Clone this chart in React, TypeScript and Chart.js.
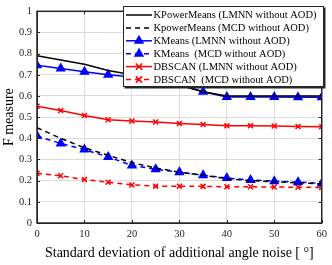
import React, { useEffect, useRef } from 'react';
import { Chart, registerables } from 'chart.js';
Chart.register(...registerables);

const noiseLevels = [0, 5, 10, 15, 20, 25, 30, 35, 40, 45, 50, 55, 60];
const kPowerMeansLmnn = [0.79, 0.77, 0.75, 0.72, 0.70, 0.68, 0.65, 0.62, 0.60, 0.60, 0.60, 0.60, 0.60];
const kPowerMeansMcd = [0.45, 0.40, 0.355, 0.32, 0.285, 0.26, 0.24, 0.225, 0.21, 0.20, 0.195, 0.19, 0.185];
const kMeansLmnn = [0.745, 0.73, 0.715, 0.70, 0.69, 0.675, 0.655, 0.62, 0.595, 0.595, 0.595, 0.594, 0.594];
const kMeansMcd = [0.411, 0.376, 0.347, 0.312, 0.272, 0.254, 0.24, 0.226, 0.212, 0.203, 0.197, 0.193, 0.187];
const dbscanLmnn = [0.552, 0.531, 0.508, 0.488, 0.482, 0.477, 0.47, 0.465, 0.459, 0.459, 0.458, 0.456, 0.455];
const dbscanMcd = [0.235, 0.223, 0.205, 0.193, 0.18, 0.174, 0.174, 0.173, 0.171, 0.171, 0.17, 0.169, 0.168];

const seriesLabels = [
  'KPowerMeans (LMNN without AOD)',
  'KpowerMeans (MCD without AOD)',
  'KMeans (LMNN without AOD)',
  'KMeans  (MCD without AOD)',
  'DBSCAN (LMNN without AOD)',
  'DBSCAN  (MCD without AOD)',
];
const yTicksMax = 1;
const xTicksMax = 60;

const FONT = '"Liberation Serif", "Times New Roman", serif';

type Style = { color: string; dash: number[]; marker: string | false; radius: number };
const styles: Style[] = [
  { color: '#000000', dash: [], marker: false, radius: 0 },
  { color: '#000000', dash: [5, 4], marker: false, radius: 0 },
  { color: '#0000ff', dash: [], marker: 'triangle', radius: 4.5 },
  { color: '#0000ff', dash: [5, 4], marker: 'triangle', radius: 4.5 },
  { color: '#ff0000', dash: [], marker: 'crossRot', radius: 3.5 },
  { color: '#ff0000', dash: [5, 4], marker: 'crossRot', radius: 3.5 },
];
const seriesValues = [kPowerMeansLmnn, kPowerMeansMcd, kMeansLmnn, kMeansMcd, dbscanLmnn, dbscanMcd];

function drawMarker(ctx: CanvasRenderingContext2D, kind: string, x: number, y: number, r: number, color: string) {
  ctx.save();
  ctx.setLineDash([]);
  ctx.strokeStyle = color;
  ctx.fillStyle = color;
  ctx.lineWidth = 1.5;
  ctx.beginPath();
  if (kind === 'triangle') {
    for (let i = 0; i < 3; i++) {
      const a = (i * 2 * Math.PI) / 3;
      const px = x + Math.sin(a) * r;
      const py = y - Math.cos(a) * r;
      if (i === 0) ctx.moveTo(px, py);
      else ctx.lineTo(px, py);
    }
    ctx.closePath();
    ctx.fill();
    ctx.stroke();
  } else {
    const d = r * 0.9;
    ctx.moveTo(x - d, y - d);
    ctx.lineTo(x + d, y + d);
    ctx.moveTo(x + d, y - d);
    ctx.lineTo(x - d, y + d);
    ctx.stroke();
  }
  ctx.restore();
}

const framePlugin = {
  id: 'frameAndLegend',
  afterDraw(chart: any) {
    const { ctx, chartArea, scales } = chart;
    const { left, right, top, bottom } = chartArea;
    ctx.save();
    // inward ticks
    ctx.strokeStyle = '#262626';
    ctx.lineWidth = 1;
    ctx.setLineDash([]);
    ctx.beginPath();
    scales.x.ticks.forEach((t: any) => {
      const px = Math.round(scales.x.getPixelForValue(t.value)) + 0.5;
      ctx.moveTo(px, bottom);
      ctx.lineTo(px, bottom - 3);
      ctx.moveTo(px, top);
      ctx.lineTo(px, top + 3);
    });
    scales.y.ticks.forEach((t: any) => {
      const py = Math.round(scales.y.getPixelForValue(t.value)) + 0.5;
      ctx.moveTo(left, py);
      ctx.lineTo(left + 3, py);
      ctx.moveTo(right, py);
      ctx.lineTo(right - 3, py);
    });
    ctx.stroke();
    // frame
    ctx.strokeStyle = '#262626';
    ctx.lineWidth = 1.5;
    ctx.strokeRect(left, top, right - left, bottom - top);

    // legend
    const lx = 123.5;
    const ly = 6.5;
    const lw = 200;
    const lh = 80;
    ctx.fillStyle = '#ffffff';
    ctx.fillRect(lx, ly, lw, lh);
    ctx.strokeStyle = '#262626';
    ctx.lineWidth = 1;
    ctx.strokeRect(lx, ly, lw, lh);
    ctx.lineWidth = 2;
    ctx.beginPath();
    ctx.moveTo(lx + 1, ly + lh + 1);
    ctx.lineTo(lx + lw + 1, ly + lh + 1);
    ctx.lineTo(lx + lw + 1, ly + 1);
    ctx.stroke();

    ctx.font = `10.5px ${FONT}`;
    ctx.textBaseline = 'middle';
    ctx.textAlign = 'left';
    seriesLabels.forEach((label, i) => {
      const s = styles[i];
      const cy = 15 + i * 12.9;
      ctx.strokeStyle = s.color;
      ctx.lineWidth = 1.5;
      ctx.setLineDash(s.dash);
      ctx.beginPath();
      ctx.moveTo(126, cy);
      ctx.lineTo(152, cy);
      ctx.stroke();
      ctx.setLineDash([]);
      if (s.marker) drawMarker(ctx, s.marker, 139, cy, s.radius, s.color);
      ctx.fillStyle = '#000000';
      ctx.fillText(label, 153.5, cy + 0.5);
    });
    ctx.restore();
  },
};

export default function App() {
  const ref = useRef<HTMLCanvasElement | null>(null);
  useEffect(() => {
    document.body.style.margin = '0';
    const canvas = ref.current;
    if (!canvas) return;
    const datasets = seriesValues.map((vals, i) => {
      const s = styles[i];
      return {
        label: seriesLabels[i],
        data: vals.map((v, j) => ({ x: noiseLevels[j], y: v })),
        borderColor: s.color,
        backgroundColor: s.color,
        borderWidth: 1.5,
        borderDash: s.dash,
        pointStyle: s.marker || 'circle',
        pointRadius: s.radius,
        pointBorderWidth: 1.5,
        pointBackgroundColor: s.color,
        pointBorderColor: s.color,
        tension: 0,
        fill: false,
      };
    });
    const chart = new Chart(canvas, {
      type: 'line',
      data: { datasets },
      options: {
        animation: false,
        responsive: false,
        maintainAspectRatio: false,
        layout: { padding: { left: 0, top: 5, right: 9, bottom: 0 } },
        plugins: { legend: { display: false }, tooltip: { enabled: false } },
        scales: {
          x: {
            type: 'linear',
            min: 0,
            max: xTicksMax,
            ticks: { stepSize: 10, padding: 5, color: '#262626', font: { family: FONT, size: 10.5 }, maxRotation: 0 },
            grid: { color: '#dcdcdc', drawTicks: false, tickLength: 0 },
            border: { display: true, color: '#262626' },
            title: {
              display: true,
              text: 'Standard deviation of additional angle noise [ °]',
              color: '#000000',
              font: { family: FONT, size: 14, lineHeight: 1.2 },
              padding: { top: 0, bottom: 3.6 },
            },
            afterFit: (scale: any) => { scale.height = 42; },
          },
          y: {
            type: 'linear',
            min: 0,
            max: yTicksMax,
            ticks: {
              stepSize: 0.1,
              padding: 5,
              color: '#262626',
              font: { family: FONT, size: 10.5 },
              callback: (v: any) => String(Number(Number(v).toFixed(1))),
            },
            grid: { color: '#dcdcdc', drawTicks: false, tickLength: 0 },
            border: { display: true, color: '#262626' },
            title: {
              display: true,
              text: 'F measure',
              color: '#000000',
              font: { family: FONT, size: 14, lineHeight: 1.2 },
              padding: { top: 0.6, bottom: 0 },
            },
            afterFit: (scale: any) => { scale.width = 37; },
          },
        },
      },
      plugins: [framePlugin],
    });
    return () => chart.destroy();
  }, []);
  return <canvas ref={ref} width={332} height={265} style={{ display: 'block', width: 332, height: 265 }} />;
}
